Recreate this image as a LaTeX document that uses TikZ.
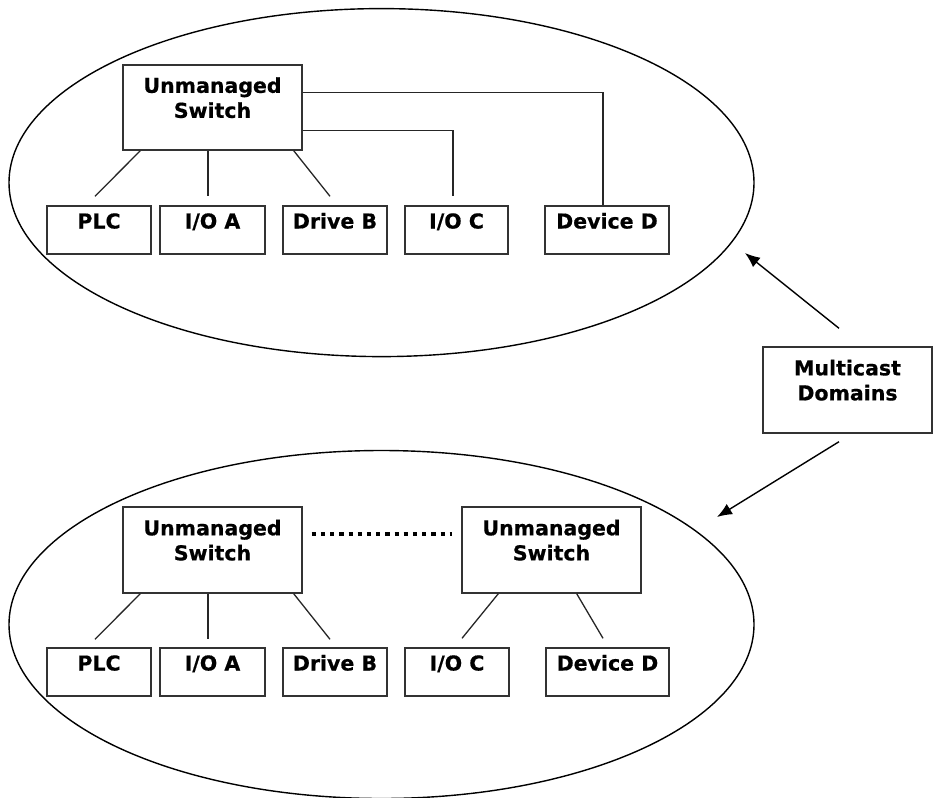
\documentclass[tikz,border=0pt]{standalone}
\usepackage{fontspec}
\setmainfont{DejaVu Sans}[BoldFeatures={FakeBold=0.6}]
\usetikzlibrary{shapes.geometric,arrows.meta,calc}

\tikzset{
  lbl/.style={font=\bfseries\fontsize{20.5}{25}\selectfont, inner sep=0pt},
  frame/.style={draw=black!80, line width=1.4pt, inner sep=0pt},
  % single-line device box, text sits in the upper part
  unit/.style={frame, minimum height=48pt,
    label={[lbl, text height=15.6pt, text depth=0pt, yshift=9.3pt]center:#1}},
  % two-line box (switches, legend)
  hub/.style={frame, minimum width=179pt, minimum height=85pt,
    label={[lbl, align=center, yshift=9.8pt]center:#1}},
  zone/.style={draw=black, line width=1.4pt, ellipse, inner sep=0pt,
    minimum width=745pt, minimum height=348pt},
  link/.style={draw=black!85, line width=1.3pt},
  pointer/.style={draw=black, line width=1.4pt, -{Latex[length=15pt,width=12pt]}},
  dotrow/.style={draw=black, line width=4.2pt, dash pattern=on 4.2pt off 5pt},
}

\begin{document}
\begin{tikzpicture}[x=1pt, y=-1pt]
\useasboundingbox (0,0) rectangle (933,797);

% the two multicast domains
\node[zone] (dom1) at (381.5,182.6) {};
\node[zone] (dom2) at (381.5,624.5) {};

% ---- upper domain: one switch, star wiring ----
\node[hub={Unmanaged\\Switch}] (tsw) at (212.5,107.5) {};
\node[unit={PLC},      minimum width=104pt] (tplc) at (99,230) {};
\node[unit={I/O A},    minimum width=105pt] (tioa) at (212.5,230) {};
\node[unit={Drive B},  minimum width=104pt] (tdrv) at (335,230) {};
\node[unit={I/O C},    minimum width=103pt] (tioc) at (456.5,230) {};
\node[unit={Device D}, minimum width=124pt] (tdev) at (607,230) {};

\draw[link] ($(tsw.south west)+(18,0)$) -- ($(tplc.north)+(-4,-9)$);
\draw[link] ($(tsw.south)+(-4.5,0)$) -- ($(tioa.north)+(-4.5,-9)$);
\draw[link] ($(tsw.south east)+(-9,0)$) -- ($(tdrv.north)+(-5,-9)$);
\draw[link] ($(tsw.north east)+(0,66)$) -| ($(tioc.north)+(-3.5,-9)$);
\draw[link] ($(tsw.north east)+(0,28)$) -| ($(tdev.north)+(-4,0)$);

% ---- lower domain: two switches ----
\node[hub={Unmanaged\\Switch}, minimum height=86pt] (bsw1) at (212.5,550) {};
\node[hub={Unmanaged\\Switch}, minimum height=86pt] (bsw2) at (551.5,550) {};
\node[unit={PLC},      minimum width=104pt] (bplc) at (99,672) {};
\node[unit={I/O A},    minimum width=105pt] (bioa) at (212.5,672) {};
\node[unit={Drive B},  minimum width=104pt] (bdrv) at (335,672) {};
\node[unit={I/O C},    minimum width=104pt] (bioc) at (457,672) {};
\node[unit={Device D}, minimum width=123pt] (bdev) at (607.5,672) {};

\draw[dotrow] ($(bsw1.north east)+(9,28)$) -- ($(bsw2.north west)+(-9.5,28)$);

\draw[link] ($(bsw1.south west)+(18,0)$) -- ($(bplc.north)+(-4,-8)$);
\draw[link] ($(bsw1.south)+(-4.5,0)$) -- ($(bioa.north)+(-4.5,-8)$);
\draw[link] ($(bsw1.south east)+(-9,0)$) -- ($(bdrv.north)+(-5,-8)$);
\draw[link] ($(bsw2.south west)+(37,0)$) -- ($(bioc.north)+(5,-9)$);
\draw[link] ($(bsw2.south east)+(-65,0)$) -- ($(bdev.north)+(-4.5,-9)$);

% ---- legend ----
\node[hub={Multicast\\Domains}, minimum width=169pt, minimum height=86pt] (mc) at (847.5,390) {};
\coordinate (tip1) at (745,253);
\coordinate (tip2) at (717,517);
\draw[pointer] ($(mc.north)+(-8.5,-18)$) -- (tip1);
\draw[pointer] ($(mc.south)+(-8.5,8)$) -- (tip2);
\end{tikzpicture}
\end{document}
